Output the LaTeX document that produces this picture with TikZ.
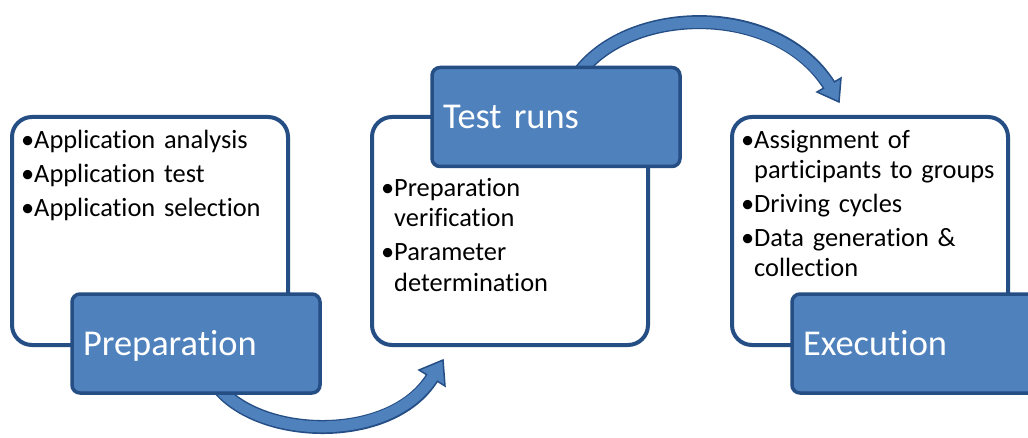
\documentclass[tikz,border=0pt]{standalone}
\usepackage{fontspec}
\setmainfont{Carlito}[Ligatures={NoCommon}]
\usetikzlibrary{calc}
\definecolor{stepblue}{HTML}{4F81BD}
\definecolor{stepline}{HTML}{254E85}
\newcommand{\itm}[1]{\noindent\hangindent=13pt\hangafter=1\makebox[13pt][l]{•}#1\par}

\begin{document}
\begin{tikzpicture}[x=1pt, y=1pt,
  listbox/.style={draw=stepline, line width=4pt, fill=white, rounded corners=20pt,
    minimum width=276pt, minimum height=228pt, inner sep=0pt},
  headbox/.style={draw=stepline, line width=3.5pt, fill=stepblue, rounded corners=8pt,
    text=white, font=\fontsize{36.4}{40}\selectfont, text width=226pt, align=left,
    inner sep=11pt, minimum height=99pt, text height=23pt, text depth=0pt},
  items/.style={anchor=base west, inner sep=0pt, text width=262pt, align=left,
    font={\fontsize{26.4}{30}\selectfont\setlength{\parskip}{4pt}}}]

  \useasboundingbox (0,0) rectangle (1028,437);

  % White boxes with the lists
  \node[listbox] (prepbox) at (150,206) {};
  \node[listbox] (testbox) at (510,206) {};
  \node[listbox] (execbox) at (870,206) {};

  \node[items] (prepitems) at (21,288)
    {\itm{Application analysis}\itm{Application test}\itm{Application selection}};
  \node[items] (testitems) at (381,240)
    {\itm{Preparation\newline verification}\itm{Parameter\newline determination}};
  \node[items] (execitems) at (741,288)
    {\itm{Assignment of\newline participants to groups}\itm{Driving cycles}%
     \itm{Data generation \&\newline collection}};

  % Curved arrows (behind the headers)
  \coordinate (a0) at (222,44);
  \coordinate (a3) at (432,59);
  \coordinate (b0) at (583,370);
  \coordinate (b3) at (829,352);

  \draw[line width=14pt, stepline, shorten <=-12pt]
    (a0) .. controls (255,-3) and (390,-8) .. (a3);
  \filldraw[fill=stepblue, draw=stepline, line width=1.5pt] (443,77) -- (445,51) -- (419,67) -- cycle;
  \draw[line width=11pt, stepblue, shorten <=-12pt, shorten >=-2pt]
    (a0) .. controls (255,-3) and (390,-8) .. (a3);

  \draw[line width=14pt, stepline, shorten <=-12pt]
    (b0) .. controls (625,432) and (775,437) .. (b3);
  \filldraw[fill=stepblue, draw=stepline, line width=1.5pt] (839,335) -- (841,359) -- (817,345) -- cycle;
  \draw[line width=11pt, stepblue, shorten <=-12pt, shorten >=-2pt]
    (b0) .. controls (625,432) and (775,437) .. (b3);

  % Headers
  \node[headbox] (prep) at (196,93.5) {Preparation};
  \node[headbox] (test) at (556,320) {Test runs};
  \node[headbox] (exec) at (916,93.5) {Execution};

\end{tikzpicture}
\end{document}
